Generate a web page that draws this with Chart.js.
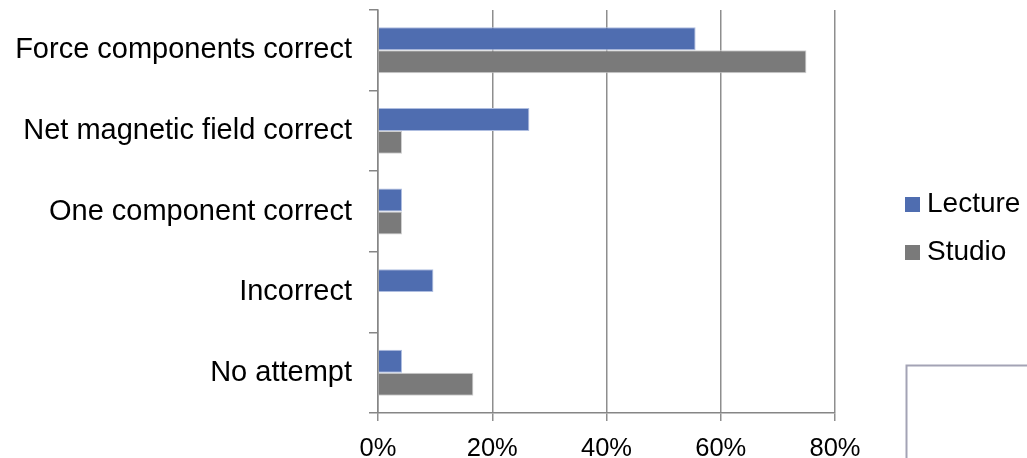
<!DOCTYPE html>
<html>
<head>
<meta charset="utf-8">
<script src="https://cdn.jsdelivr.net/npm/chart.js@4/dist/chart.umd.min.js"></script>
<style>
  html, body { margin: 0; padding: 0; background: #fff; }
</style>
</head>
<body>
<canvas id="responseChart" width="1027" height="458"></canvas>
<script>
const categories = [
  "Force components correct",
  "Net magnetic field correct",
  "One component correct",
  "Incorrect",
  "No attempt",
];
const lectureValues = [55.6, 26.5, 4.2, 9.7, 4.2];
const studioValues = [75, 4.2, 4.2, 0, 16.7];
const percentTicks = [0, 20, 40, 60, 80];

const FONT = '"Liberation Sans", Arial, sans-serif';
const AXIS_GRAY = "#868686";

// legend drawn to the right of the plot, plus the stray frame in the corner
const sideLegend = {
  id: "sideLegend",
  afterDraw(chart) {
    const { ctx } = chart;
    ctx.save();
    ctx.font = "28px " + FONT;
    ctx.textBaseline = "middle";
    chart.data.datasets.forEach((ds, i) => {
      const y = 204 + i * 48;
      ctx.fillStyle = ds.backgroundColor;
      ctx.fillRect(905, y - 7, 15, 15);
      ctx.fillStyle = "#000";
      ctx.fillText(ds.label, 927, y);
    });

    ctx.strokeStyle = "#a3a3b5";
    ctx.lineWidth = 2;
    ctx.beginPath();
    ctx.moveTo(906.5, 458);
    ctx.lineTo(906.5, 365.5);
    ctx.lineTo(1027, 365.5);
    ctx.stroke();
    ctx.restore();
  },
};

const ctx = document.getElementById("responseChart").getContext("2d");

new Chart(ctx, {
  type: "bar",
  data: {
    labels: categories,
    datasets: [
      {
        label: "Lecture",
        data: lectureValues,
        backgroundColor: "#4f6db0",
        borderColor: "#aebde0",
        borderWidth: 1,
      },
      {
        label: "Studio",
        data: studioValues,
        backgroundColor: "#7a7a7a",
        borderColor: "#cfcfcf",
        borderWidth: 1,
      },
    ],
  },
  options: {
    responsive: false,
    animation: false,
    indexAxis: "y",
    categoryPercentage: 0.57,
    barPercentage: 1.0,
    layout: {
      padding: { top: 10, right: 192, bottom: 0, left: 0 },
    },
    plugins: {
      legend: { display: false },
      tooltip: { enabled: false },
    },
    scales: {
      x: {
        min: 0,
        max: 80,
        afterBuildTicks(scale) {
          scale.ticks = percentTicks.map((v) => ({ value: v }));
        },
        afterFit(scale) {
          scale.height = 45;
        },
        ticks: {
          callback: (v) => v + "%",
          color: "#000",
          padding: 13,
          font: { family: FONT, size: 25.5 },
          maxRotation: 0,
        },
        grid: {
          color: "#8e8e8e",
          lineWidth: 1.5,
          tickLength: 8,
        },
        border: { color: AXIS_GRAY, width: 1.5 },
      },
      y: {
        afterFit(scale) {
          scale.width = 378;
          // labels sit inside their bands, no extra room needed above/below
          scale.paddingTop = 0;
          scale.paddingBottom = 0;
        },
        ticks: {
          color: "#000",
          padding: 17,
          font: { family: FONT, size: 29 },
        },
        grid: {
          offset: true,
          drawOnChartArea: false,
          color: AXIS_GRAY,
          lineWidth: 1.5,
          tickLength: 9,
        },
        border: { color: AXIS_GRAY, width: 1.5 },
      },
    },
  },
  plugins: [sideLegend],
});
</script>
</body>
</html>
